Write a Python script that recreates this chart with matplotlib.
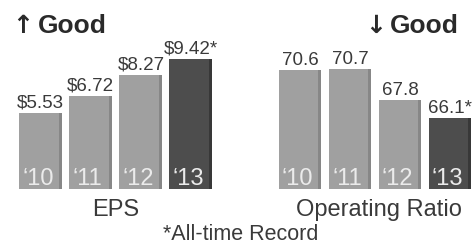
import matplotlib
matplotlib.use("Agg")
import matplotlib.pyplot as plt

plt.rcParams['font.family'] = ['Liberation Sans', 'DejaVu Sans']

years = ["\u201810", "\u201811", "\u201812", "\u201813"]
eps = [5.53, 6.72, 8.27, 9.42]
eps_labels = ["$5.53", "$6.72", "$8.27", "$9.42*"]
op_ratio = [70.6, 70.7, 67.8, 66.1]
op_labels = ["70.6", "70.7", "67.8", "66.1*"]

W, H = 472, 245
fig = plt.figure(figsize=(W / 100, H / 100), dpi=100)

light = "#a0a0a0"
light_side = "#878787"
dark = "#4d4d4d"
dark_side = "#383838"
colors = [light, light, light, dark]
side_colors = [light_side, light_side, light_side, dark_side]
text_col = "#3a3a3a"

def px_axes(x0, x1, ytop, ybot):
    return fig.add_axes([x0 / W, 1 - ybot / H, (x1 - x0) / W, (ybot - ytop) / H])

def draw(ax, vals, labels, ymin, ymax):
    ax.set_xlim(-0.5, 3.5)
    ax.set_ylim(ymin, ymax)
    xs = list(range(len(vals)))
    fw, sw = 0.80, 0.06
    heights = [v - ymin for v in vals]
    ax.bar([x - sw / 2 for x in xs], heights, width=fw, bottom=ymin, color=colors, linewidth=0)
    ax.bar([x + fw / 2 - 0.01 for x in xs], heights, width=sw, bottom=ymin, color=side_colors, linewidth=0)
    for x, v, lab, yr in zip(xs, vals, labels, years):
        ax.annotate(lab, xy=(x, v), xytext=(0, 4), textcoords="offset points",
                    ha="center", va="baseline", fontsize=13.5, color=text_col)
        ax.annotate(yr, xy=(x - 0.06, ymin), xytext=(0, 3), textcoords="offset points",
                    ha="center", va="baseline", fontsize=17, color="#ebebeb")
    ax.axis("off")

ax1 = px_axes(15.8, 216.0, 51, 189)
draw(ax1, eps, eps_labels, 0, 10)

ax2 = px_axes(275, 475, 51, 189)
draw(ax2, op_ratio, op_labels, 59.5, 59.5 + 138 / 10.7)

good_col = "#2a2a2a"
fig.text(12 / W, 1 - 33 / H, "\u2191", fontsize=18, fontweight="bold",
         family="DejaVu Sans", color=good_col, ha="left", va="baseline")
fig.text(107 / W, 1 - 33 / H, "Good", fontsize=19, fontweight="bold",
         color=good_col, ha="right", va="baseline")
fig.text(365 / W, 1 - 33 / H, "\u2193", fontsize=18, fontweight="bold",
         family="DejaVu Sans", color=good_col, ha="left", va="baseline")
fig.text(459 / W, 1 - 33 / H, "Good", fontsize=19, fontweight="bold",
         color=good_col, ha="right", va="baseline")
fig.text(115.5 / W, 1 - 216 / H, "EPS", fontsize=17, color=text_col,
         ha="center", va="baseline")
fig.text(378.5 / W, 1 - 216 / H, "Operating Ratio", fontsize=17, color=text_col,
         ha="center", va="baseline")
fig.text(241 / W, 1 - 240 / H, "*All-time Record", fontsize=15.5, color=text_col,
         ha="center", va="baseline")

fig.savefig("out.png", dpi=100)
